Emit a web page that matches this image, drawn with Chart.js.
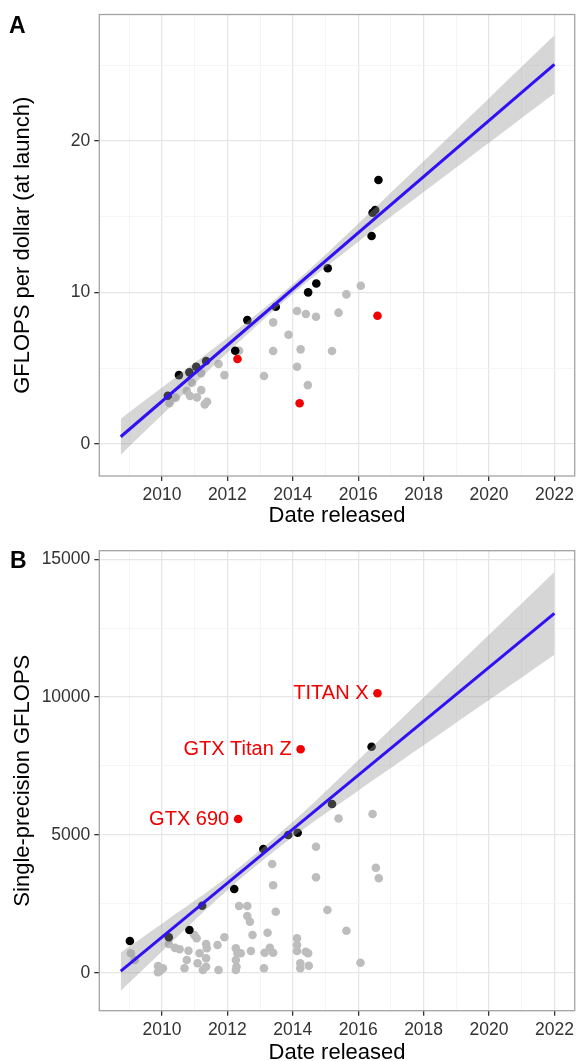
<!DOCTYPE html>
<html><head><meta charset="utf-8">
<script src="https://cdn.jsdelivr.net/npm/chart.js@4"></script>
<style>
html,body{margin:0;padding:0;background:#fff;overflow:hidden;width:579px;height:1061px;}
#wrap{position:relative;width:579px;height:1061px;overflow:hidden;background:#fff;}
canvas{position:absolute;left:0;}
#cA{top:0;} #cB{top:530px;}
.tag{position:absolute;font-family:"Liberation Sans",Arial,Helvetica,sans-serif;font-weight:bold;font-size:23px;line-height:23px;color:#000;}
</style></head><body>
<div id="wrap">
<canvas id="cA" width="579" height="530"></canvas>
<canvas id="cB" width="579" height="545"></canvas>
<div class="tag" style="left:9px;top:14px">A</div>
<div class="tag" style="left:10px;top:549px">B</div>
</div>
<script>
// ---------- shared ticks ----------
const xTickYears = [2009,2010,2011,2012,2013,2014,2015,2016,2017,2018,2019,2020,2021,2022];
const aYTicks = [0,5,10,15,20,25];
const bYTicks = [0,2500,5000,7500,10000,12500,15000];

// ---------- Panel A: GFLOPS per dollar ----------
const aGrayYear = [2012.36,2011.73,2011.91,2011.20,2010.92,2011.20,2010.76,2010.86,2011.07,2010.42,2010.23,2011.38,2011.31,2013.12,2013.40,2013.87,2013.40,2014.13,2014.40,2014.71,2014.24,2014.13,2014.46,2015.40,2015.20,2015.64,2016.08];
const aGrayVal  = [6.16,5.28,4.55,4.67,4.05,3.56,3.50,3.17,3.08,3.06,2.69,2.79,2.62,4.49,8.03,7.21,6.14,8.78,8.58,8.40,6.25,5.10,3.89,8.67,6.14,9.88,10.45];
const aBlackYear = [2016.62,2016.52,2016.44,2016.41,2015.07,2014.72,2014.47,2013.48,2012.61,2012.24,2011.35,2011.05,2010.84,2010.52,2010.18];
const aBlackVal  = [17.43,15.45,15.27,13.73,11.60,10.60,10.01,9.06,8.18,6.16,5.48,5.10,4.73,4.55,3.19];
const aRedYear = [2012.31,2014.21,2016.59];
const aRedVal  = [5.61,2.69,8.47];
const aFitYear = [2008.74,2022];
const aFitVal  = [0.48,25.06];
const aBandYear = [2008.74,2010,2012,2014,2016,2018,2020,2022];
const aBandLow  = [-0.71,1.91,6.02,9.92,13.34,16.63,19.89,23.14];
const aBandHigh = [1.67,3.73,7.02,10.54,14.54,18.67,22.83,26.98];

// ---------- Panel B: single-precision GFLOPS ----------
const bGrayYear = [2009.05,2009.17,2009.88,2009.95,2010.03,2009.88,2010.21,2010.40,2010.54,2010.69,2010.76,2010.81,2010.99,2011.06,2011.15,2011.09,2011.35,2011.37,2011.35,2011.35,2011.25,2011.70,2011.73,2011.91,2012.26,2012.31,2012.41,2012.26,2012.28,2012.26,2012.36,2012.61,2012.61,2012.69,2012.77,2012.72,2013.14,2013.30,2013.40,2013.12,2013.23,2013.37,2013.40,2013.48,2014.13,2014.13,2014.13,2014.40,2014.47,2014.23,2014.49,2014.23,2014.71,2014.71,2015.06,2015.40,2015.64,2016.07,2016.44,2016.54,2016.63];
const bGrayVal  = [704,461,243,73,160,20,1041,900,849,160,461,798,1368,1248,704,341,1041,885,522,218,98,1005,98,1284,885,704,704,461,218,98,2420,2420,2057,1850,1368,787,726,907,726,160,1451,3944,3171,2213,1248,1005,787,762,704,341,254,160,4571,3461,2275,5596,1524,363,5758,3810,3425];
const bBlackYear = [2009.02,2010.21,2010.84,2011.23,2012.21,2013.10,2013.86,2014.15,2015.20,2016.41];
const bBlackVal  = [1150,1284,1549,2431,3037,4488,4996,5080,6120,8200];
const bRedYear = [2012.33,2014.24,2016.59];
const bRedVal  = [5576,8105,10137];
const bRedName = ['GTX 690','GTX Titan Z','TITAN X'];
const bFitYear = [2008.74,2022];
const bFitVal  = [60,13041];
const bBandYear = [2008.74,2010,2012,2014,2016,2018,2020,2022];
const bBandLow  = [-655,773,2995,4921,6605,8254,9896,11541];
const bBandHigh = [735,1777,3477,5473,7711,9984,12264,14541];

// ---------- styling ----------
const FONT = '"Liberation Sans", Arial, Helvetica, sans-serif';
const GRAY = '#bdbdbd', BLACK = '#000000', RED = '#f00000', BLUE = '#3010f5';
const BAND = 'rgba(153,153,153,0.4)';

const pts = (xs, ys) => xs.map((x, i) => ({x: x, y: ys[i]}));

const framePlugin = {
  id: 'frame',
  afterDraw(c) {
    const a = c.chartArea, g = c.ctx;
    g.save(); g.strokeStyle = '#a3a3a3'; g.lineWidth = 1.3;
    g.strokeRect(a.left, a.top, a.right - a.left, a.bottom - a.top);
    g.restore();
  }
};

const labelPlugin = {
  id: 'ptLabels',
  afterDatasetsDraw(c, args, opts) {
    if (!opts.names) return;
    const g = c.ctx, xs = c.scales.x, ys = c.scales.y;
    g.save();
    g.font = '20px ' + FONT; g.fillStyle = RED; g.textAlign = 'right'; g.textBaseline = 'middle';
    opts.names.forEach((n, i) => {
      g.fillText(n, xs.getPixelForValue(opts.years[i]) - 9, ys.getPixelForValue(opts.vals[i]));
    });
    g.restore();
  }
};

function gridOpts(isMajor) {
  return {
    color: ctx => isMajor(ctx.tick ? ctx.tick.value : 0) ? '#e6e6e6' : '#f2f2f2',
    lineWidth: ctx => isMajor(ctx.tick ? ctx.tick.value : 0) ? 1.3 : 0.8,
    tickColor: ctx => isMajor(ctx.tick ? ctx.tick.value : 0) ? '#333333' : 'rgba(0,0,0,0)',
    tickWidth: 1.3,
    tickLength: 5,
    drawTicks: true
  };
}

function makePanel(canvas, p) {
  return new Chart(canvas, {
    type: 'scatter',
    data: {
      datasets: [
        {type: 'scatter', data: pts(p.redYear, p.redVal), backgroundColor: RED, pointRadius: 4.3, pointBorderWidth: 0, order: 0},
        {type: 'line', data: pts(p.fitYear, p.fitVal), borderColor: BLUE, borderWidth: 3, pointRadius: 0, fill: false, order: 1},
        {type: 'line', data: pts(p.bandYear, p.bandHigh), borderColor: 'rgba(0,0,0,0)', borderWidth: 0, pointRadius: 0, tension: 0.35, fill: '+1', backgroundColor: BAND, order: 2},
        {type: 'line', data: pts(p.bandYear, p.bandLow), borderColor: 'rgba(0,0,0,0)', borderWidth: 0, pointRadius: 0, tension: 0.35, fill: false, order: 3},
        {type: 'scatter', data: pts(p.blackYear, p.blackVal), backgroundColor: BLACK, pointRadius: 4.3, pointBorderWidth: 0, order: 4},
        {type: 'scatter', data: pts(p.grayYear, p.grayVal), backgroundColor: GRAY, pointRadius: 4.3, pointBorderWidth: 0, order: 5}
      ]
    },
    options: {
      responsive: false, animation: false, devicePixelRatio: 1, events: [],
      layout: {padding: {left: 0, right: 1, top: p.padTop, bottom: 0}},
      plugins: {legend: {display: false}, tooltip: {enabled: false},
        ptLabels: {names: p.names, years: p.redYear, vals: p.redVal}},
      scales: {
        x: {
          type: 'linear', position: 'bottom', min: 2008.085, max: 2022.62,
          afterBuildTicks: s => { s.ticks = xTickYears.map(v => ({value: v})); },
          afterFit: s => { s.height = p.xHeight; },
          ticks: {autoSkip: false, maxRotation: 0, minRotation: 0, padding: 4, color: '#333333',
            font: {family: FONT, size: 17.5}, callback: v => (v % 2 === 0 ? String(v) : '')},
          grid: gridOpts(v => v % 2 === 0),
          border: {display: false},
          title: {display: true, text: 'Date released', color: '#000000',
            font: {family: FONT, size: 22}, padding: {top: 0, bottom: p.xTitlePad}}
        },
        y: {
          type: 'linear', position: 'left', min: p.yMin, max: p.yMax,
          afterBuildTicks: s => { s.ticks = p.yTicks.map(v => ({value: v})); },
          afterFit: s => { s.width = 99.3; },
          ticks: {autoSkip: false, padding: 4, color: '#333333',
            font: {family: FONT, size: 17.5}, callback: v => (v % p.yMajor === 0 ? String(v) : '')},
          grid: gridOpts(v => v % p.yMajor === 0),
          border: {display: false},
          title: {display: true, text: p.yTitle, color: '#000000',
            font: {family: FONT, size: 22}, padding: {top: 10, bottom: 0}}
        }
      }
    },
    plugins: [framePlugin, labelPlugin]
  });
}

makePanel(document.getElementById('cA'), {
  grayYear: aGrayYear, grayVal: aGrayVal, blackYear: aBlackYear, blackVal: aBlackVal,
  redYear: aRedYear, redVal: aRedVal, fitYear: aFitYear, fitVal: aFitVal,
  bandYear: aBandYear, bandLow: aBandLow, bandHigh: aBandHigh, names: null,
  padTop: 14.5, xHeight: 54, xTitlePad: 1.3, yMin: -2.11, yMax: 28.35,
  yTicks: aYTicks, yMajor: 10, yTitle: 'GFLOPS per dollar (at launch)'
});

makePanel(document.getElementById('cB'), {
  grayYear: bGrayYear, grayVal: bGrayVal, blackYear: bBlackYear, blackVal: bBlackVal,
  redYear: bRedYear, redVal: bRedVal, fitYear: bFitYear, fitVal: bFitVal,
  bandYear: bBandYear, bandLow: bBandLow, bandHigh: bBandHigh, names: bRedName,
  padTop: 20.7, xHeight: 64.3, xTitlePad: 8.8, yMin: -1379, yMax: 15312,
  yTicks: bYTicks, yMajor: 5000, yTitle: 'Single-precision GFLOPS'
});
</script>
</body></html>
